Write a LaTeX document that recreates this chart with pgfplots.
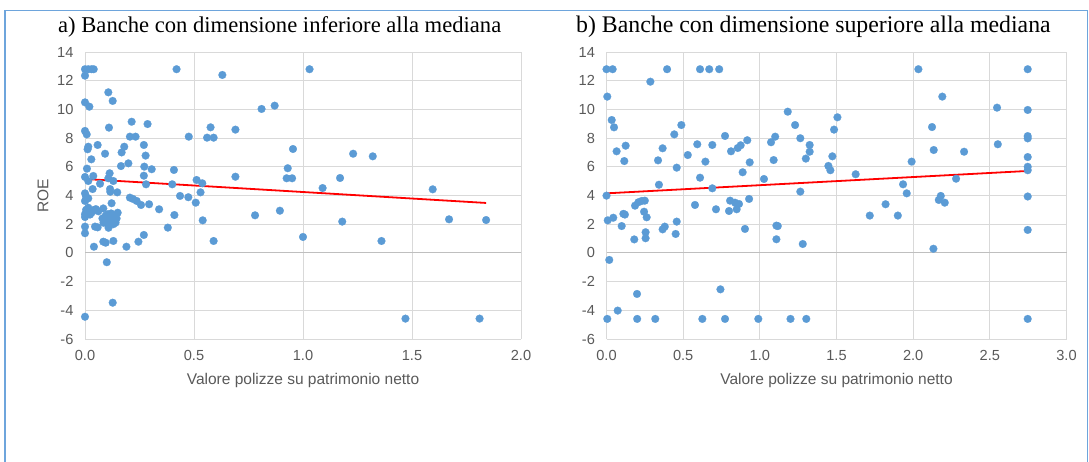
\documentclass[border=0pt]{standalone}
\usepackage{fontspec}
\setmainfont{Liberation Sans}
\newfontfamily\titlefont{Liberation Serif}
\usepackage{pgfplots}
\usepackage{pgfplotstable}
\pgfplotsset{compat=1.18}
\definecolor{dotblue}{RGB}{91,155,213}
\definecolor{framecol}{RGB}{110,165,220}
\definecolor{gridgray}{RGB}{217,217,217}
\definecolor{zerogray}{RGB}{191,191,191}
\definecolor{tickgray}{RGB}{89,89,89}

\pgfplotstableread{
x y
0.0 12.8
0.015 12.8
0.03 12.8
0.04 12.8
0.0 12.35
0.42 12.8
0.63 12.4
1.03 12.8
0.107 11.19
0.127 10.59
0.0 10.49
0.02 10.19
0.81 10.03
0.87 10.26
0.214 9.14
0.287 8.98
0.11 8.73
0.0 8.5
0.008 8.26
0.206 8.1
0.232 8.1
0.476 8.1
0.576 8.75
0.56 8.03
0.59 8.03
0.69 8.59
0.015 7.4
0.012 7.22
0.058 7.52
0.18 7.4
0.168 7.0
0.092 6.91
0.27 7.52
0.278 6.78
0.954 7.24
0.029 6.52
0.199 6.24
0.165 6.05
0.272 6.01
0.306 5.83
0.009 5.87
0.408 5.78
0.113 5.55
0.0 5.29
0.038 5.36
0.27 5.38
0.107 5.2
0.13 5.01
0.015 5.01
0.069 4.82
0.035 4.45
0.115 4.45
0.116 4.26
0.148 4.22
0.28 4.78
0.4 4.78
0.512 5.08
0.538 4.85
0.69 5.31
0.93 5.9
0.925 5.2
0.95 5.2
1.23 6.91
1.32 6.73
1.09 4.52
1.17 5.22
1.595 4.43
0.53 4.22
0.894 2.94
0.54 2.27
0.59 0.83
0.78 2.62
1.18 2.18
1.0 1.11
1.36 0.83
1.67 2.34
1.84 2.29
1.47 -4.58
1.81 -4.58
0.0 4.15
0.005 3.92
0.0 3.62
0.015 3.8
0.122 3.46
0.206 3.85
0.22 3.76
0.237 3.62
0.257 3.34
0.294 3.39
0.34 3.04
0.436 3.97
0.474 3.88
0.508 3.5
0.41 2.64
0.38 1.76
0.27 1.25
0.245 0.78
0.19 0.43
0.13 0.83
0.084 0.78
0.095 0.71
0.041 0.43
0.0 1.83
0.0 1.37
0.046 1.83
0.058 1.78
0.1 -0.65
0.127 -3.47
0.0 -4.45
0.005 3.0
0.015 3.15
0.023 2.67
0.038 2.98
0.061 2.9
0.084 3.1
0.0 2.7
0.03 2.8
0.0 2.5
0.05 3.05
0.08 2.4
0.095 2.6
0.105 2.7
0.12 2.75
0.135 2.6
0.145 2.4
0.09 2.2
0.105 2.0
0.115 2.3
0.13 2.0
0.108 1.75
0.15 2.8
0.14 2.1
0.085 2.1
}\leftdata

\pgfplotstableread{
x y
0.0 12.8
0.04 12.8
0.395 12.8
0.61 12.8
0.67 12.8
0.735 12.8
0.286 11.93
0.005 10.89
0.034 9.26
0.049 8.75
0.488 8.91
0.442 8.26
0.773 8.15
0.125 7.47
0.066 7.08
0.116 6.4
0.366 7.29
0.336 6.45
0.458 5.94
0.592 7.57
0.53 6.82
0.69 7.52
0.645 6.36
0.812 7.08
0.856 7.31
0.875 7.5
0.918 7.85
0.934 6.31
0.888 5.62
0.61 5.24
1.027 5.15
0.342 4.75
0.69 4.5
0.0 3.99
0.186 3.29
0.208 3.53
0.23 3.62
0.25 3.64
0.245 2.87
0.262 2.48
0.12 2.67
0.11 2.72
0.008 2.27
0.044 2.45
0.099 1.87
0.181 0.94
0.255 1.44
0.255 1.02
0.366 1.64
0.38 1.83
0.458 2.18
0.451 1.32
0.577 3.34
0.714 3.04
0.806 3.64
0.838 3.5
0.864 3.41
0.849 3.04
0.799 2.92
0.93 3.76
0.903 1.67
0.018 -0.49
0.199 -2.86
0.073 -4.02
0.743 -2.54
0.005 -4.6
0.2 -4.6
0.318 -4.6
0.625 -4.6
0.773 -4.6
0.99 -4.6
2.034 12.8
1.182 9.84
1.506 9.45
1.23 8.91
1.484 8.59
1.1 8.1
1.073 7.71
1.264 7.99
1.325 7.52
1.325 7.05
1.3 6.57
1.09 6.47
1.473 6.73
1.447 6.06
1.46 5.76
1.625 5.48
1.264 4.27
1.108 1.9
1.117 1.87
1.108 0.95
1.28 0.62
1.717 2.6
1.82 3.39
1.9 2.6
1.934 4.78
1.958 4.15
1.99 6.36
1.2 -4.6
1.303 -4.6
2.747 12.8
2.19 10.89
2.547 10.12
2.747 9.96
2.123 8.77
2.747 8.14
2.747 7.98
2.134 7.17
2.332 7.05
2.552 7.57
2.747 6.68
2.747 6.0
2.747 5.76
2.28 5.17
2.18 3.97
2.167 3.69
2.206 3.5
2.747 3.93
2.747 1.6
2.132 0.29
2.747 -4.6
}\rightdata

\pgfplotsset{
  myaxis/.style={
    scale only axis,
    height=287pt,
    ymin=-6, ymax=14,
    ytick={-6,-4,...,14},
    xmin=0,
    grid=major,
    grid style={color=gridgray, line width=0.8pt},
    axis line style={draw=none},
    major tick length=0pt,
    tick label style={font=\fontsize{14.6}{16}\selectfont, text=tickgray},
    /pgf/number format/assume math mode=true,
    xticklabel style={yshift=-8pt, /pgf/number format/.cd, fixed, fixed zerofill, precision=1},
    yticklabel style={xshift=-8pt},
    extra y ticks={0},
    extra y tick labels={},
    extra y tick style={grid style={color=zerogray, line width=0.8pt}},
    clip=false,
  },
  dots/.style={only marks, mark=*, mark size=3.9pt,
    mark options={fill=dotblue, draw=dotblue, line width=0.2pt}},
}

\begin{document}
\begin{tikzpicture}
\useasboundingbox (0,0) rectangle (1089pt,462pt);
% frame
\draw[framecol, line width=1.6pt] (5pt,0pt) -- (5pt,451.5pt) -- (1087.5pt,451.5pt) -- (1087.5pt,0pt);

\begin{axis}[myaxis, at={(85pt,123pt)}, anchor=south west,
  width=436pt, xmax=2, xtick={0,0.5,...,2}]
  \addplot[dots] table[x=x, y=y] {\leftdata};
  \addplot[red, line width=1.8pt, no marks] coordinates {(0,5.15) (1.84,3.48)};
\end{axis}

\begin{axis}[myaxis, at={(606.5pt,123pt)}, anchor=south west,
  width=460pt, xmax=3, xtick={0,0.5,...,3}]
  \addplot[dots] table[x=x, y=y] {\rightdata};
  \addplot[red, line width=1.8pt, no marks] coordinates {(0,4.15) (2.747,5.71)};
\end{axis}

% titles
\node[anchor=base west, inner sep=0pt, font=\titlefont\fontsize{22.6}{26}\selectfont]
  at (58pt,429.7pt) {a) Banche con dimensione inferiore alla mediana};
\node[anchor=base west, inner sep=0pt, font=\titlefont\fontsize{23.8}{26}\selectfont]
  at (576pt,429.7pt) {b) Banche con dimensione superiore alla mediana};
% axis titles
\node[anchor=base, inner sep=0pt, text=tickgray, font=\fontsize{15.5}{18}\selectfont]
  at (303pt,77pt) {Valore polizze su patrimonio netto};
\node[anchor=base, inner sep=0pt, text=tickgray, font=\fontsize{15.5}{18}\selectfont]
  at (836.5pt,77pt) {Valore polizze su patrimonio netto};
\node[anchor=base, rotate=90, inner sep=0pt, text=tickgray, font=\fontsize{15.5}{18}\selectfont]
  at (48.3pt,266pt) {ROE};
\end{tikzpicture}
\end{document}
